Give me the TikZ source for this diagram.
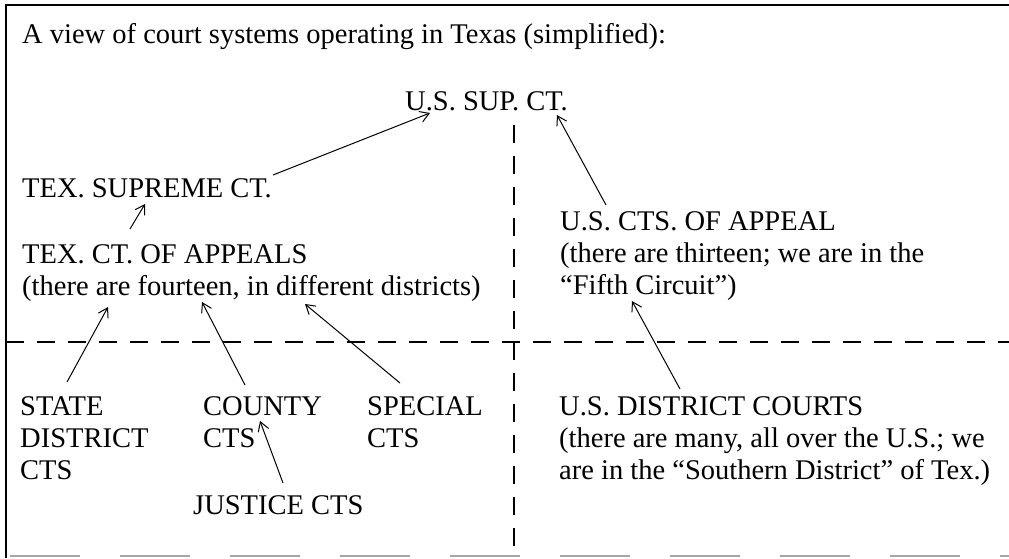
\documentclass[tikz,border=0pt]{standalone}
\usepackage{fontspec}
\setmainfont{Liberation Serif}
\usetikzlibrary{arrows.meta,positioning}
\tikzset{
  court/.style={anchor=base west,inner sep=0pt,align=left,text depth=0pt,
    font=\fontsize{28.5}{32}\selectfont},
  scrawl/.style={line width=1pt,-{Straight Barb[length=9pt,width=11pt]}},
  cutline/.style={line width=1.2pt,dash pattern=on 18pt off 13pt},
}

\begin{document}
\begin{tikzpicture}[x=1pt,y=-1pt]
  \useasboundingbox (0,0) rectangle (1009,558);
  % frame
  \draw[line width=1.5pt] (1009,5) -- (6,5) -- (6,558);
  \draw[black!35,line width=1.5pt,dash pattern=on 70pt off 40pt] (10,556) -- (1009,556);
  % state / federal split
  \draw[cutline] (6,342) -- (1009,342);
  \draw[cutline] (514,125) -- (514,558);
  % courts (anchored at the last baseline)
  \node[court] (title) at (22,43) {A view of court systems operating in Texas (simplified):};
  \node[court] (ussup) at (405,110) {U.S. SUP. CT.};
  \node[court] (texsup) at (22,197) {TEX. SUPREME CT.};
  \node[court] (texapp) at (22,295) {TEX. CT. OF APPEALS\\(there are fourteen, in different districts)};
  \node[court] (usapp) at (560,294) {U.S. CTS. OF APPEAL\\(there are thirteen; we are in the\\“Fifth Circuit”)};
  \node[court] (state) at (20,479) {STATE\\DISTRICT\\CTS};
  \node[court] (county) at (203,447) {COUNTY\\CTS};
  \node[court] (special) at (367,447) {SPECIAL\\CTS};
  \node[court] (justice) at (193,514) {JUSTICE CTS};
  \node[court] (usdist) at (559,479) {U.S. DISTRICT COURTS\\(there are many, all over the U.S.; we\\are in the “Southern District” of Tex.)};
  % arrow ends
  \coordinate (texsupout) at (273,175);
  \coordinate (ussupin) at (430,113);
  \coordinate (texappout) at (130,229);
  \coordinate (texsupin) at (145,204);
  \coordinate (usappout) at (606,205);
  \coordinate (ussupin2) at (557,115);
  \coordinate (stateout) at (67,382);
  \coordinate (countyout) at (245,385);
  \coordinate (specialout) at (400,383);
  \coordinate (texappin1) at (108,307);
  \coordinate (texappin2) at (202,302);
  \coordinate (texappin3) at (305,304);
  \coordinate (justiceout) at (283,483);
  \coordinate (countyin) at (260,421);
  \coordinate (usdistout) at (680,389);
  \coordinate (usappin) at (632,301);
  % appeals
  \draw[scrawl] (texsupout) -- (ussupin);
  \draw[scrawl] (texappout) -- (texsupin);
  \draw[scrawl] (usappout) -- (ussupin2);
  \draw[scrawl] (stateout) -- (texappin1);
  \draw[scrawl] (countyout) -- (texappin2);
  \draw[scrawl] (specialout) -- (texappin3);
  \draw[scrawl] (justiceout) -- (countyin);
  \draw[scrawl] (usdistout) -- (usappin);
\end{tikzpicture}
\end{document}
